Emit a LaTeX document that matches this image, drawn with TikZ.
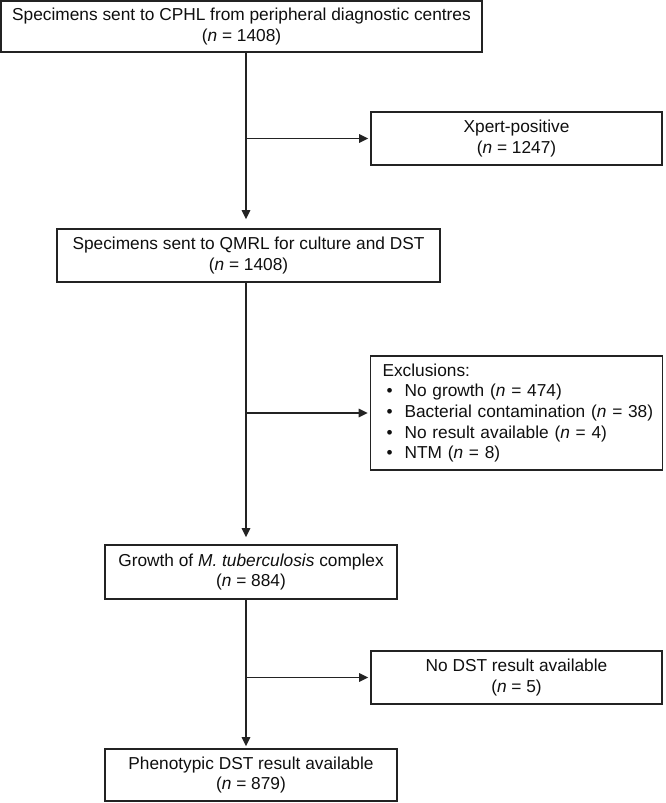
\documentclass[tikz,border=0pt]{standalone}
\usepackage{fontspec}
\setmainfont{Liberation Sans}
\usepackage{tikz}
\usetikzlibrary{arrows.meta}
\definecolor{boxline}{RGB}{35,35,35}
\definecolor{boxtext}{RGB}{15,15,15}

\begin{document}
\begin{tikzpicture}[x=1pt, y=1pt, every node/.style={font=\fontsize{17.3}{20.7}\selectfont, text=boxtext},
  flowbox/.style={draw=boxline, line width=1.6pt, align=center, inner sep=0pt},
  flowarrow/.style={-{Triangle[length=9pt, width=8.5pt]}, line width=1.5pt, draw=boxline}]
  \useasboundingbox (0,0) rectangle (666,-803);
  % main column
  \node[flowbox, minimum width=481pt, minimum height=51pt] (cphl) at (241.5,-26.5)
       {Specimens sent to CPHL from peripheral diagnostic centres\\(\textit{n} = 1408)};
  \node[flowbox, minimum width=383pt, minimum height=53pt] (qmrl) at (248.5,-255.5)
       {Specimens sent to QMRL for culture and DST\\(\textit{n} = 1408)};
  \node[flowbox, minimum width=292pt, minimum height=54pt] (mtb) at (251,-572)
       {Growth of \textit{M.~tuberculosis} complex\\(\textit{n} = 884)};
  \node[flowbox, minimum width=292pt, minimum height=52pt] (pheno) at (251,-775)
       {Phenotypic DST result available\\(\textit{n} = 879)};
  % side boxes
  \node[flowbox, minimum width=291pt, minimum height=53pt] (xpert) at (516.5,-138.5)
       {Xpert-positive\\(\textit{n} = 1247)};
  \node[flowbox, align=left, text width=278pt, inner xsep=7pt, minimum height=114pt] (excl) at (516.5,-413)
       {\hspace*{5pt}Exclusions:\\
        \hspace*{9pt}\textbullet\hspace*{12pt}No growth (\textit{n}~=~474)\\
        \hspace*{9pt}\textbullet\hspace*{12pt}Bacterial contamination (\textit{n}~=~38)\\
        \hspace*{9pt}\textbullet\hspace*{12pt}No result available (\textit{n}~=~4)\\
        \hspace*{9pt}\textbullet\hspace*{12pt}NTM (\textit{n}~=~8)};
  \node[flowbox, minimum width=291pt, minimum height=53pt] (nodst) at (516.5,-677.5)
       {No DST result available\\(\textit{n} = 5)};
  \coordinate (spine) at (246,0);
  % connectors
  \draw[flowarrow, shorten >=9pt] (cphl.south -| spine) -- (qmrl.north -| spine);
  \draw[flowarrow, shorten >=7pt] (qmrl.south -| spine) -- (mtb.north -| spine);
  \draw[flowarrow, shorten >=2pt] (mtb.south -| spine) -- (pheno.north -| spine);
  \draw[flowarrow, shorten >=2pt] (spine |- xpert.west) -- (xpert.west);
  \draw[flowarrow, shorten >=2pt] (spine |- excl.west) -- (excl.west);
  \draw[flowarrow, shorten >=2pt] (spine |- nodst.west) -- (nodst.west);
\end{tikzpicture}
\end{document}
